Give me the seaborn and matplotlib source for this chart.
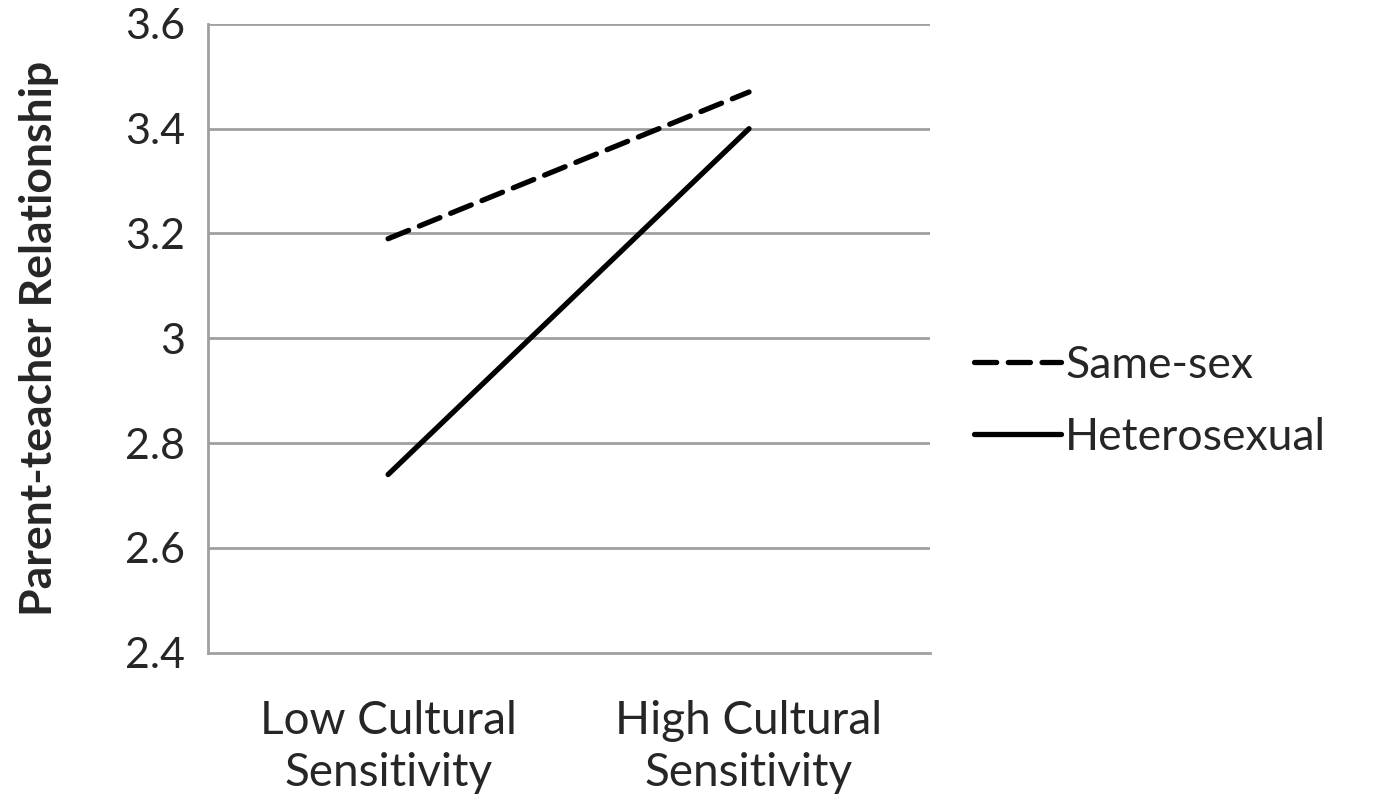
import matplotlib
matplotlib.use("Agg")
import matplotlib.pyplot as plt
import seaborn as sns
import pandas as pd

# data
categories = ["Low Cultural\nSensitivity", "High Cultural\nSensitivity"]
same_sex = [3.19, 3.47]
heterosexual = [2.74, 3.40]
y_ticks = [2.4, 2.6, 2.8, 3.0, 3.2, 3.4, 3.6]
y_tick_labels = ["2.4", "2.6", "2.8", "3", "3.2", "3.4", "3.6"]

df = pd.DataFrame({
    "condition": categories * 2,
    "value": same_sex + heterosexual,
    "group": ["Same-sex"] * 2 + ["Heterosexual"] * 2,
})

sns.set_style("white")
plt.rcParams["font.family"] = ["Lato", "DejaVu Sans"]

fig = plt.figure(figsize=(13.75, 7.96), dpi=100)
ax = fig.add_axes([0.151, 0.180, 0.525, 0.790])

grey = "#a0a0a0"
for y in y_ticks[1:]:
    ax.axhline(y, color=grey, lw=2, zorder=0)

sns.lineplot(data=df, x="condition", y="value", style="group",
             style_order=["Same-sex", "Heterosexual"],
             dashes={"Same-sex": (4.2, 2.2), "Heterosexual": ""},
             color="black", lw=3.8, sort=False, ax=ax, legend=True)
for line in ax.get_lines():
    line.set_solid_capstyle("round")
    line.set_dash_capstyle("round")

ax.set_xlim(-0.5, 1.5)
ax.set_ylim(2.4, 3.6)
ax.set_yticks(y_ticks)
ax.set_yticklabels(y_tick_labels, fontsize=31)
ax.set_xticks([0, 1])
ax.set_xticklabels(categories, fontsize=33, linespacing=1.3)
ax.set_xticks([-0.5, 0.5, 1.5], minor=True)
ax.tick_params(axis="x", which="major", length=0, pad=34)
ax.tick_params(axis="x", which="minor", length=9, width=2, color=grey, direction="out")
ax.tick_params(axis="y", length=9, width=2, color=grey, direction="out", pad=7)

for side in ["top", "right"]:
    ax.spines[side].set_visible(False)
for side in ["left", "bottom"]:
    ax.spines[side].set_color(grey)
    ax.spines[side].set_linewidth(2)

ax.set_xlabel("")
ax.set_ylabel("Parent-teacher Relationship", fontsize=32, fontweight="bold", labelpad=48)

leg = ax.legend(loc="center left", bbox_to_anchor=(1.062, 0.40), frameon=False,
                fontsize=32, handlelength=1.95, handletextpad=0.1, labelspacing=0.7,
                borderpad=0, borderaxespad=0)
for h in leg.get_lines():
    h.set_linewidth(3.8)

fig.savefig("out.png", dpi=100)
